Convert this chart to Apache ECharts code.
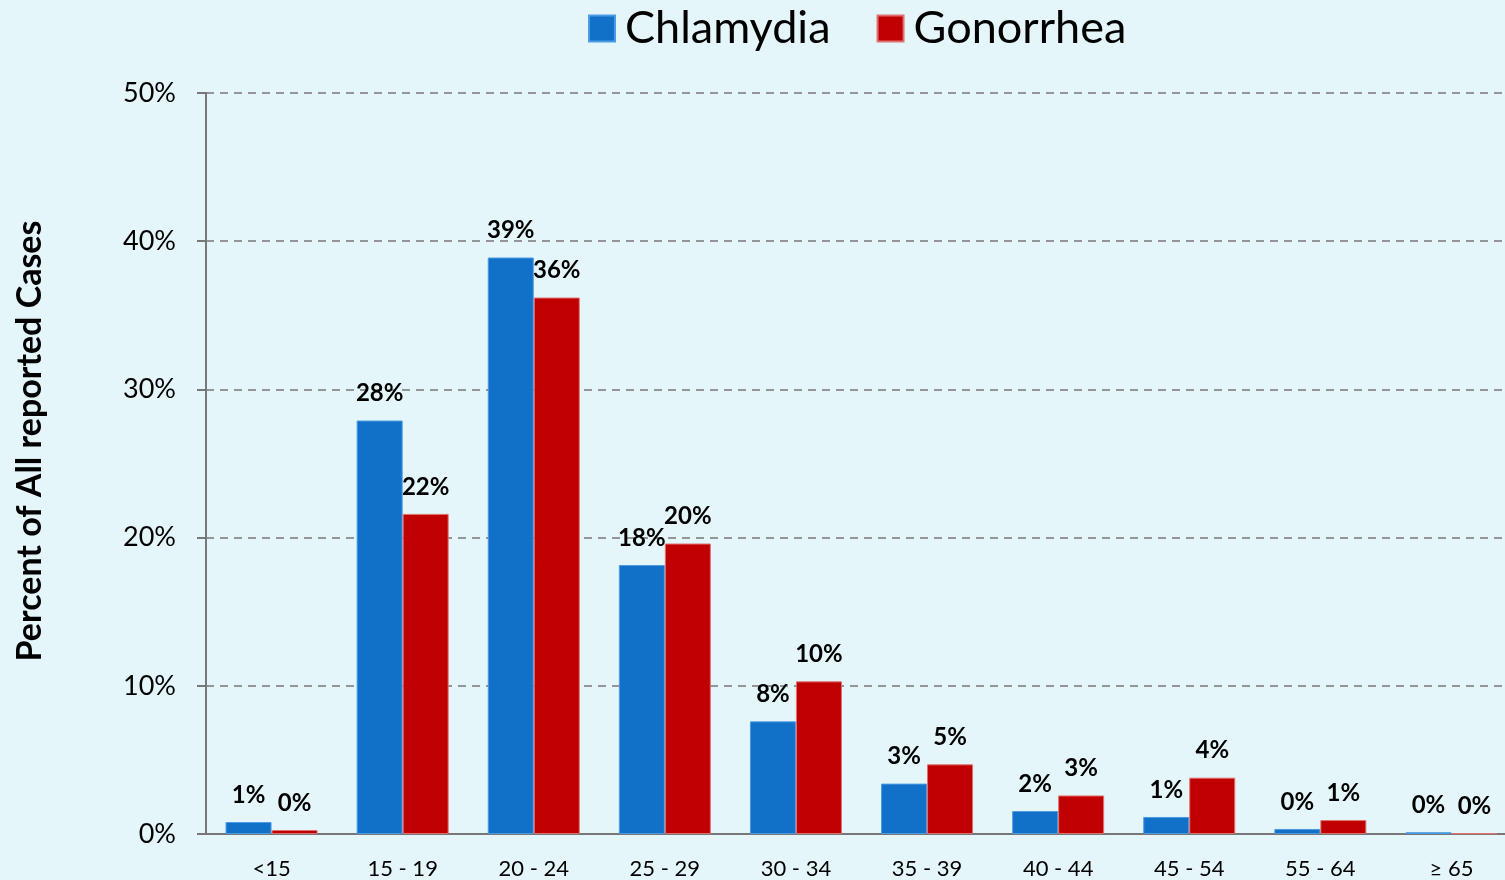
<!DOCTYPE html>
<html>
<head>
<meta charset="utf-8">
<style>
html,body{margin:0;padding:0;background:#e4f6fa;overflow:hidden;}
#container{width:1517px;height:880px;}
</style>
<script src="https://cdn.jsdelivr.net/npm/echarts@6/dist/echarts.min.js"></script>
</head>
<body>
<div id="container"></div>
<script>
var ages = ['<15', '15 - 19', '20 - 24', '25 - 29', '30 - 34', '35 - 39', '40 - 44', '45 - 54', '55 - 64', '\u2265 65'];
var chlamydia = [0.81, 27.9, 38.9, 18.15, 7.6, 3.4, 1.55, 1.15, 0.34, 0.12];
var gonorrhea = [0.27, 21.6, 36.2, 19.6, 10.3, 4.7, 2.6, 3.8, 0.94, 0.05];
var yTicks = [0, 10, 20, 30, 40, 50];

var font = 'Lato, "Open Sans", sans-serif';
var dom = document.getElementById('container');
var myChart = echarts.init(dom);

function pct(p) {
    return Math.round(p.value) + '%';
}

var barLabel = {
    show: true,
    position: 'top',
    distance: 15,
    fontFamily: font,
    fontSize: 24,
    fontWeight: 'bold',
    color: '#000',
    formatter: pct
};

var option = {
    backgroundColor: '#e4f6fa',
    animation: false,
    legend: {
        top: 1,
        left: 583,
        itemWidth: 26,
        itemHeight: 26,
        itemGap: 46,
        icon: 'rect',
        textStyle: { fontFamily: font, fontSize: 45, color: '#000', padding: [0, 0, 0, 5] },
        data: ['Chlamydia', 'Gonorrhea']
    },
    grid: { left: 206, right: 0, top: 93, bottom: 46 },
    graphic: [{
        type: 'text',
        x: 30,
        y: 441,
        rotation: Math.PI / 2,
        style: {
            text: 'Percent of All reported Cases',
            fontFamily: font,
            fontSize: 34,
            fontWeight: 'bold',
            fill: '#000',
            align: 'center',
            verticalAlign: 'middle'
        }
    }],
    xAxis: {
        type: 'category',
        data: ages,
        axisLine: { lineStyle: { color: '#777', width: 2 } },
        axisTick: { length: 9, lineStyle: { color: '#777', width: 2 } },
        axisLabel: { margin: 24, fontFamily: font, fontSize: 22, color: '#000' }
    },
    yAxis: {
        type: 'value',
        min: 0,
        max: 50,
        interval: 10,
        axisLine: { show: true, lineStyle: { color: '#777', width: 2 } },
        axisTick: { show: true, length: 9, lineStyle: { color: '#777', width: 2 } },
        axisLabel: {
            margin: 30,
            fontFamily: font,
            fontSize: 27,
            color: '#000',
            formatter: function (v) { return yTicks.indexOf(v) >= 0 ? v + '%' : ''; }
        },
        splitLine: { lineStyle: { color: '#777', type: [8, 6], width: 1.5 } }
    },
    series: [{
        name: 'Chlamydia',
        type: 'bar',
        data: chlamydia,
        barWidth: 46,
        barGap: 0,
        itemStyle: { color: '#1170c8', borderColor: '#4c9be3', borderWidth: 1 },
        label: barLabel
    }, {
        name: 'Gonorrhea',
        type: 'bar',
        data: gonorrhea,
        barWidth: 46,
        barGap: 0,
        itemStyle: { color: '#c00000', borderColor: '#e07070', borderWidth: 1 },
        label: barLabel
    }]
};

myChart.setOption(option);
</script>
</body>
</html>
